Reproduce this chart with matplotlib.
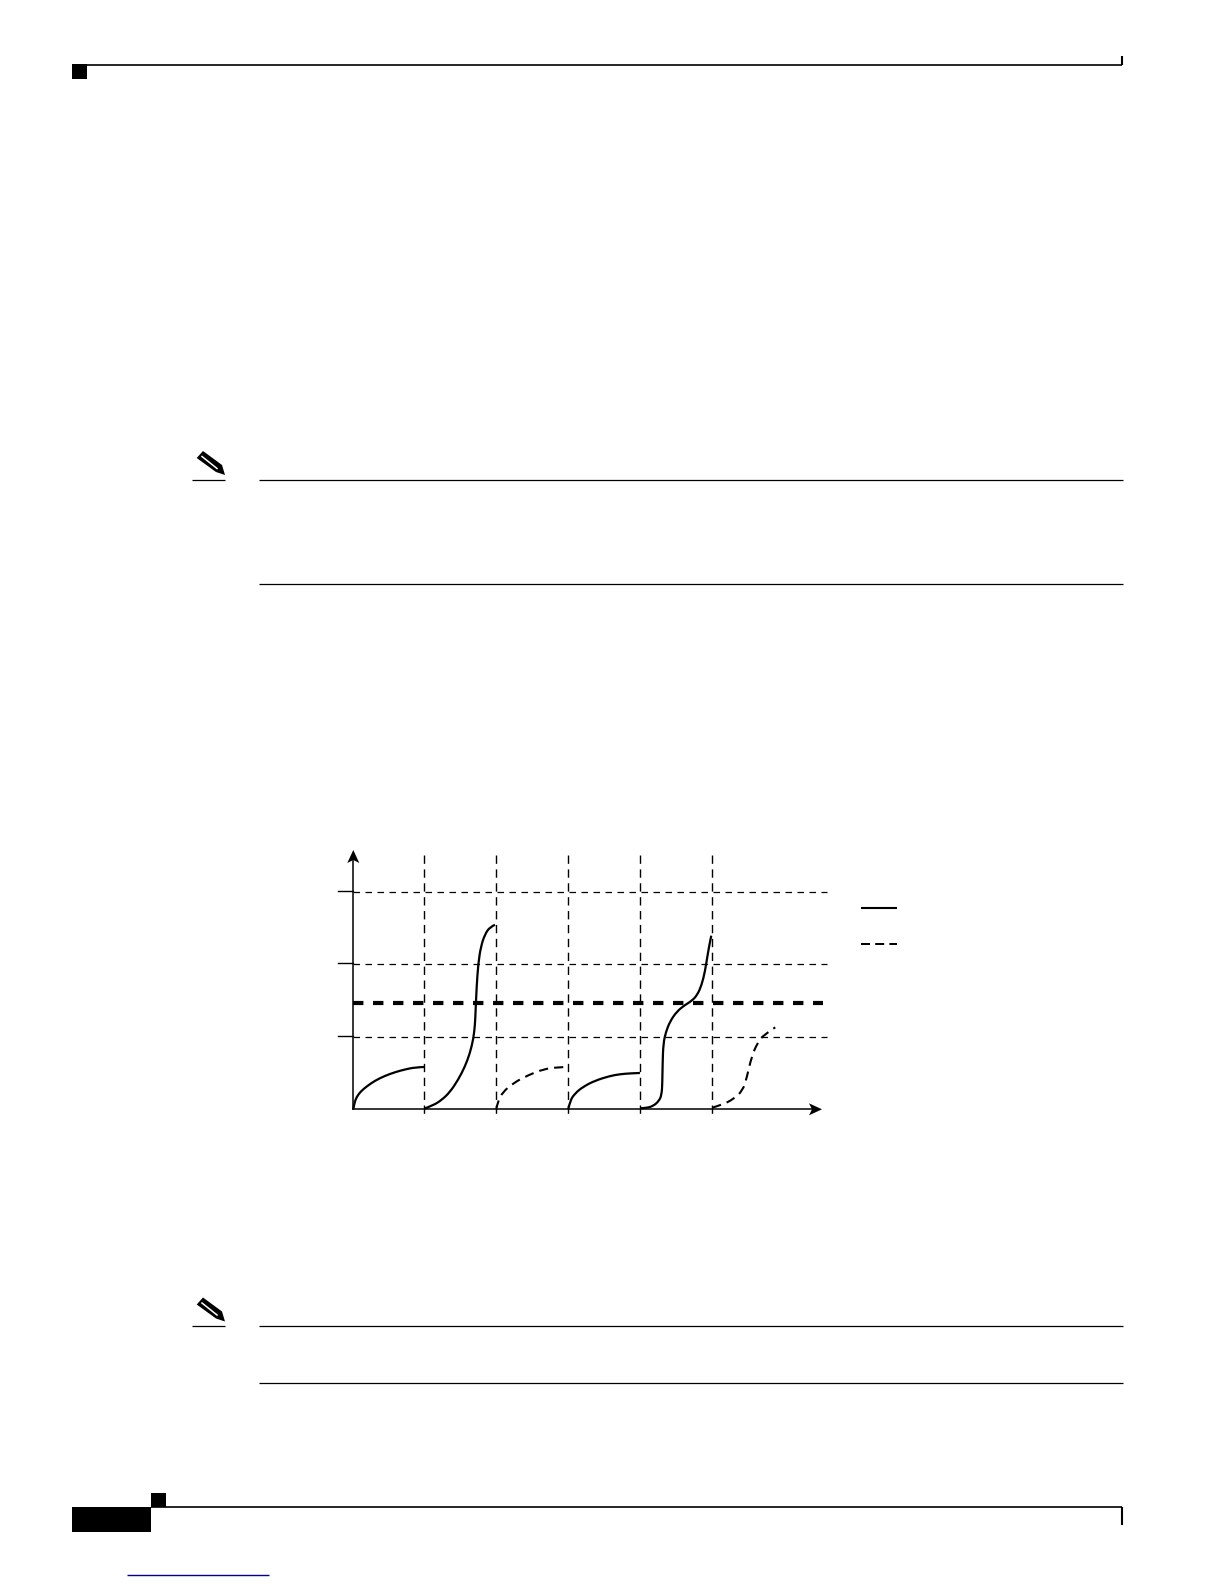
#page figure: load vs time curves, with page furniture drawn in pixel coordinates
import numpy as np
import matplotlib
matplotlib.use('Agg')
import matplotlib.pyplot as plt
from matplotlib.patches import Rectangle, Polygon, PathPatch
from matplotlib.path import Path

W = 1224
H = 1584

#chart geometry (pixels)
x0, y0 = 353.3, 1109.3
xunit, yunit = 72.0, 72.5

#Interval boundaries and levels, in chart units
boundaries = [0.986, 1.986, 2.986, 3.986, 4.986]
levels = [1, 2, 3]
threshold = 1.47

#Curves (x in intervals, y in levels)
c1_x = [0, .014, .046, .102, .185, .301, .440, .579, .718, .856, .986]
c1_y = [0, .085, .170, .245, .315, .395, .462, .512, .550, .578, .584]

c2_x = [.986, 1.111, 1.227, 1.343, 1.458, 1.551, 1.620, 1.667, 1.690, 1.699, 1.713, 1.736, 1.773, 1.829, 1.898, 1.968]
c2_y = [.009, .055, .128, .238, .410, .590, .775, .969, 1.163, 1.370, 1.692, 2.014, 2.250, 2.415, 2.515, 2.545]

c3_x = [1.986, 2.005, 2.074, 2.222, 2.431, 2.639, 2.824, 2.986]
c3_y = [0, .105, .235, .362, .472, .552, .580, .584]

c4_x = [2.986, 3.009, 3.079, 3.194, 3.356, 3.565, 3.704, 3.843, 3.981]
c4_y = [0, .115, .220, .312, .395, .460, .484, .496, .501]

c5_x = [3.986, 4.074, 4.167, 4.245, 4.282, 4.292, 4.296, 4.306, 4.343, 4.398, 4.491, 4.606, 4.699, 4.778, 4.838, 4.884, 4.921, 4.954, 4.972]
c5_y = [.014, .018, .046, .115, .198, .359, .635, .910, 1.071, 1.209, 1.347, 1.439, 1.494, 1.577, 1.715, 1.899, 2.129, 2.313, 2.395]

c6_x = [4.986, 5.116, 5.278, 5.407, 5.463, 5.532, 5.611, 5.694, 5.860]
c6_y = [.023, .060, .138, .257, .428, .727, .910, 1.025, 1.130]

#Legend sample lines (pixels)
legend_solid_y = 907.7
legend_dash_y = 944.0

plt.rcParams['font.family'] = ['Liberation Sans', 'DejaVu Sans']
fig = plt.figure(figsize=(W/100, H/100), dpi=100)
ax = fig.add_axes([0, 0, 1, 1])
ax.set_xlim(0, W)
ax.set_ylim(H, 0)
ax.axis('off')

def px(x):
    return x0 + np.asarray(x)*xunit

def py(y):
    return y0 - np.asarray(y)*yunit

#quadratic spline with the read points as control points, so curves don't look angular
def smooth(cx, cy, **kw):
    pts = np.column_stack([px(cx), py(cy)])
    verts = [pts[0]]
    codes = [Path.MOVETO]
    for i in range(1, len(pts)-1):
        end = pts[-1] if i == len(pts)-2 else (pts[i]+pts[i+1])/2
        verts += [pts[i], end]
        codes += [Path.CURVE3, Path.CURVE3]
    ax.add_patch(PathPatch(Path(verts, codes), fc='none', ec='black', **kw))

k = 'black'

#page header
ax.plot([72, 1122], [64.5, 64.5], color=k, lw=1.2, solid_capstyle='butt')
ax.plot([1122.3, 1122.3], [56, 65], color=k, lw=1.5, solid_capstyle='butt')
ax.add_patch(Rectangle((72, 64), 15, 15, fc=k, ec='none'))

#page footer
ax.plot([151, 1122], [1507, 1507], color=k, lw=1.2, solid_capstyle='butt')
ax.plot([1122, 1122], [1507, 1524.7], color=k, lw=1.5, solid_capstyle='butt')
ax.add_patch(Rectangle((72, 1507), 79, 25, fc=k, ec='none'))
ax.add_patch(Rectangle((151, 1493), 15, 14, fc=k, ec='none'))
ax.plot([127, 269], [1575.3, 1575.3], color='#000099', lw=1.0, solid_capstyle='butt')

#note rules and pencils
for top, bottom in [(479.5, 584), (1326, 1383)]:
    ax.plot([259, 1123], [top, top], color=k, lw=0.9, solid_capstyle='butt')
    ax.plot([259, 1123], [bottom, bottom], color=k, lw=0.9, solid_capstyle='butt')
    ax.plot([192, 225], [top, top], color=k, lw=0.9, solid_capstyle='butt')
    ax.add_patch(Polygon([(196.7, top-21.5), (203, top-28.5), (222, top-14.5), (225, top-4.5), (216, top-7.5)], fc=k, ec='none'))
    ax.plot([202, 217], [top-23, top-11], color='white', lw=1.1)

#grid
for b in boundaries:
    ax.plot([px(b)]*2, [855, 1119], color=k, lw=1.0, ls=(0, (6, 4)))
for lev in levels:
    ax.plot([x0, 827.3], [py(lev)]*2, color=k, lw=0.9, ls=(0, (5.2, 4.4)))
    ax.plot([338, x0], [py(lev)-1]*2, color=k, lw=1.0)

#threshold
ax.plot([x0, 823], [py(threshold)]*2, color=k, lw=3.0, ls=(0, (2.5, 2.3)))

#axes with arrowheads
ax.plot([x0, x0], [y0, 860], color=k, lw=1.1)
ax.plot([x0, 815], [y0, y0], color=k, lw=1.1)
ax.add_patch(Polygon([(x0, 850), (x0+6, 863), (x0, 860), (x0-6, 863)], fc=k, ec='none'))
ax.add_patch(Polygon([(822, y0), (809, y0-6), (812, y0), (809, y0+6)], fc=k, ec='none'))

#curves
for cx, cy in [(c1_x, c1_y), (c2_x, c2_y), (c4_x, c4_y), (c5_x, c5_y)]:
    smooth(cx, cy, lw=1.6)
for cx, cy in [(c3_x, c3_y), (c6_x, c6_y)]:
    smooth(cx, cy, lw=1.5, ls=(0, (4.4, 2.9)))

#legend
ax.plot([861, 897], [legend_solid_y]*2, color=k, lw=1.5, solid_capstyle='butt')
ax.plot([861, 897], [legend_dash_y]*2, color=k, lw=1.44, ls=(0, (4.5, 2.6)))

fig.savefig('out.png', dpi=100)
